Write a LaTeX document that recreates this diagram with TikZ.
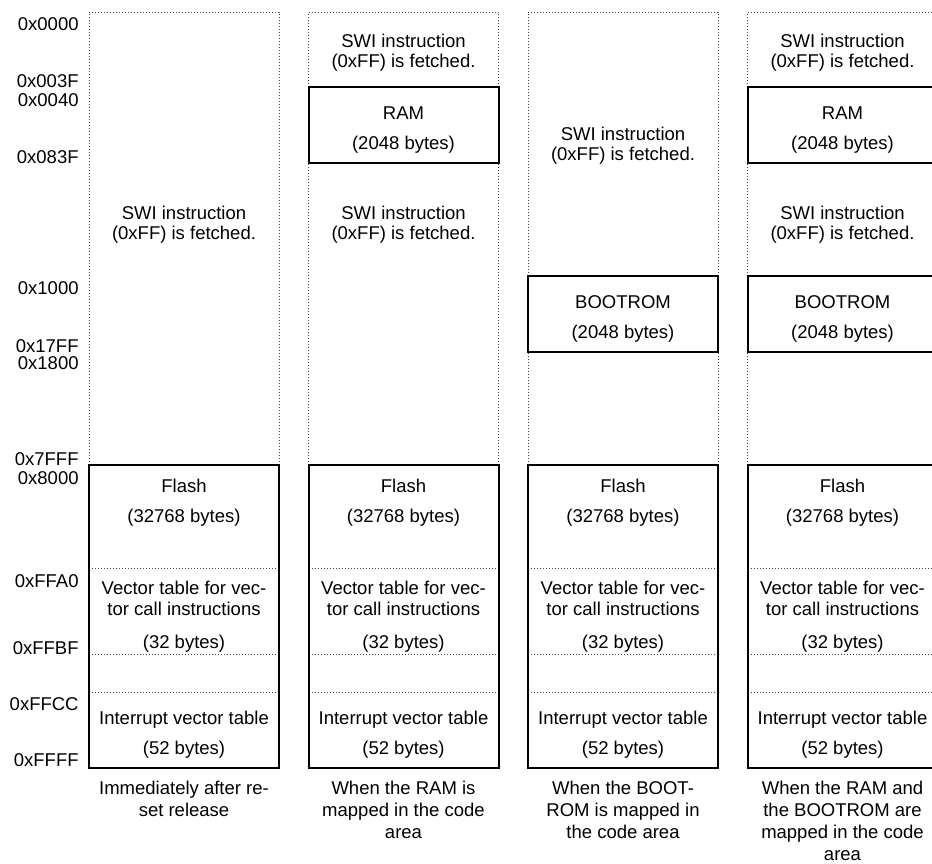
\documentclass[tikz,border=0pt]{standalone}
\usepackage{fontspec}
\setmainfont{Liberation Sans}
\begin{document}
\begin{tikzpicture}[x=0.5pt,y=-0.5pt,
    every node/.style={font=\fontsize{9.25}{10}\selectfont, align=center, inner sep=0pt},
    area/.style={draw=black!75, densely dotted, line width=0.5pt},
    block/.style={draw=black, line width=1pt},
    addr/.style={anchor=east},
    caption/.style={anchor=north, font=\fontsize{9.25}{11}\selectfont}]
  \useasboundingbox (0,0) rectangle (932,863);
  \begin{scope}[every node/.append style={addr}]
    \node (a0000) at (79,24) {0x0000};
    \node (a003F) at (79,81) {0x003F};
    \node (a0040) at (79,100) {0x0040};
    \node (a083F) at (79,157) {0x083F};
    \node (a1000) at (79,288) {0x1000};
    \node (a17FF) at (79,346) {0x17FF};
    \node (a1800) at (79,363) {0x1800};
    \node (a7FFF) at (79,459) {0x7FFF};
    \node (a8000) at (79,478) {0x8000};
    \node (aFFA0) at (79,581) {0xFFA0};
    \node (aFFBF) at (79,648) {0xFFBF};
    \node (aFFCC) at (79,704) {0xFFCC};
    \node (aFFFF) at (79,760) {0xFFFF};
  \end{scope}
  \foreach \c/\x in {1/89, 2/308.5, 3/528, 4/747.5} {
    \draw[area] (\x,465) |- (\x+190,12) -- (\x+190,465);
    \draw[area] (\x,568) -- (\x+190,568);
    \draw[area] (\x,654) -- (\x+190,654);
    \draw[area] (\x,692) -- (\x+190,692);
    \draw[block] (\x,465) rectangle (\x+190,768);
    \node (flash\c) at (\x+95,503) {Flash\\[5pt](32768 bytes)};
    \node (vect\c) at (\x+95,617) {Vector table for vec-\\[0.5pt]tor call instructions\\[6.5pt](32 bytes)};
    \node (intv\c) at (\x+95,735) {Interrupt vector table\\[5pt](52 bytes)};
  }
  \foreach \c/\x in {2/308.5, 4/747.5} {
    \draw[block] (\x,87) rectangle (\x+190,163);
    \node (switop\c) at (\x+95,53) {SWI instruction\\(0xFF) is fetched.};
    \node (ram\c) at (\x+95,130) {RAM\\[5pt](2048 bytes)};
    \node (swimid\c) at (\x+95,225) {SWI instruction\\(0xFF) is fetched.};
  }
  \foreach \c/\x in {3/528, 4/747.5} {
    \draw[block] (\x,276) rectangle (\x+190,352);
    \node (boot\c) at (\x+95,319) {BOOTROM\\[5pt](2048 bytes)};
  }
  \node (swi1) at (184,225) {SWI instruction\\(0xFF) is fetched.};
  \node (swi3) at (623,146) {SWI instruction\\(0xFF) is fetched.};
  \begin{scope}[every node/.append style={caption}]
    \node (cap1) at (184,781) {Immediately after re-\\set release};
    \node (cap2) at (403.5,781) {When the RAM is\\mapped in the code\\area};
    \node (cap3) at (623,781) {When the BOOT-\\ROM is mapped in\\the code area};
    \node (cap4) at (842.5,781) {When the RAM and\\the BOOTROM are\\mapped in the code\\area};
  \end{scope}
\end{tikzpicture}
\end{document}
